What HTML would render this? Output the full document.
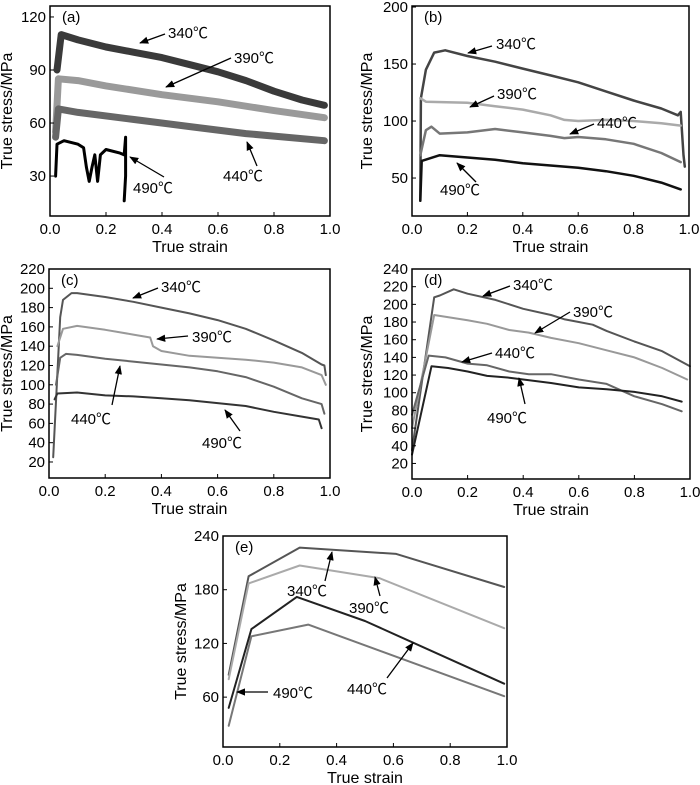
<!DOCTYPE html>
<html><head><meta charset="utf-8"><style>
html,body{margin:0;padding:0;background:#fff;}
svg{display:block;font-family:"Liberation Sans","Noto Sans CJK SC",sans-serif;}
</style></head><body>
<svg id="fig" width="700" height="785" viewBox="0 0 700 785" xmlns="http://www.w3.org/2000/svg">
<defs><marker id="ah" viewBox="0 0 10 10" refX="9" refY="5" markerWidth="7" markerHeight="7" orient="auto"><path d="M0,1 L10,5 L0,9 z" fill="#000"/></marker></defs>
</svg>
<script>
// ---- data (true strain / true stress MPa) ----
const xTicks=[0,0.2,0.4,0.6,0.8,1.0];
const xTickLabels=["0.0","0.2","0.4","0.6","0.8","1.0"];
const aYTicks=[30,60,90,120];
const bYTicks=[50,100,150,200];
const cYTicks=[20,40,60,80,100,120,140,160,180,200,220];
const dYTicks=[20,40,60,80,100,120,140,160,180,200,220,240];
const eYTicks=[60,120,180,240];

const a340X=[0.025,0.04,0.1,0.2,0.3,0.4,0.5,0.6,0.7,0.8,0.9,0.98];
const a340Y=[90,110,107,103,100,97,93,89,84,78,73,70];
const a390X=[0.02,0.03,0.1,0.2,0.4,0.6,0.8,0.98];
const a390Y=[55,85,84,81,76,72,67,63];
const a440X=[0.02,0.03,0.1,0.3,0.5,0.7,0.98];
const a440Y=[52,68,66,62,58,54,50];
const a490X=[0.02,0.025,0.05,0.1,0.12,0.13,0.14,0.15,0.16,0.17,0.18,0.2,0.25,0.265,0.27,0.27,0.265];
const a490Y=[30,48,50,48,46,35,27,35,42,27,42,45,43,42,52,30,16];

const b340X=[0.03,0.032,0.05,0.08,0.12,0.2,0.3,0.4,0.5,0.6,0.7,0.8,0.9,0.96,0.97,0.98,0.985];
const b340Y=[30,120,145,160,162,157,152,146,140,134,126,118,111,105,108,70,60];
const b390X=[0.03,0.05,0.2,0.3,0.4,0.5,0.55,0.6,0.7,0.8,0.9,0.97];
const b390Y=[120,117,116,113,110,105,101,100,101,100,98,96];
const b440X=[0.03,0.05,0.07,0.1,0.2,0.3,0.4,0.5,0.55,0.6,0.7,0.8,0.9,0.97];
const b440Y=[70,92,95,89,90,93,90,87,85,86,84,80,72,64];
const b490X=[0.03,0.035,0.1,0.2,0.3,0.4,0.5,0.6,0.7,0.8,0.9,0.97];
const b490Y=[30,65,70,68,66,63,61,59,56,52,46,40];

const c340X=[0.015,0.04,0.05,0.08,0.1,0.2,0.3,0.4,0.5,0.6,0.7,0.8,0.9,0.97,0.98,0.985];
const c340Y=[25,170,188,195,195,191,186,180,174,167,158,146,133,121,120,110];
const c390X=[0.03,0.05,0.1,0.2,0.3,0.36,0.37,0.4,0.5,0.6,0.7,0.8,0.9,0.97,0.985];
const c390Y=[140,158,161,157,152,149,140,135,130,128,126,123,118,110,100];
const c440X=[0.025,0.04,0.06,0.1,0.2,0.3,0.4,0.5,0.6,0.7,0.8,0.9,0.97,0.98];
const c440Y=[100,128,132,131,127,124,121,118,114,108,98,86,80,70];
const c490X=[0.02,0.03,0.1,0.2,0.3,0.4,0.5,0.6,0.7,0.8,0.9,0.96,0.97];
const c490Y=[85,91,92,89,88,86,84,81,78,72,67,64,55];

const d340X=[0,0.08,0.1,0.15,0.2,0.3,0.4,0.5,0.55,0.6,0.65,0.7,0.8,0.9,1.0];
const d340Y=[35,208,210,217,212,205,195,188,183,180,177,170,158,147,130];
const d390X=[0,0.08,0.2,0.27,0.35,0.42,0.5,0.6,0.7,0.8,0.9,0.99];
const d390Y=[60,188,182,178,171,168,162,156,148,140,128,115];
const d440X=[0,0.06,0.12,0.2,0.27,0.35,0.42,0.5,0.6,0.7,0.8,0.9,0.97];
const d440Y=[75,142,140,133,131,124,121,121,115,110,96,87,79];
const d490X=[0,0.07,0.13,0.2,0.27,0.35,0.4,0.5,0.6,0.7,0.8,0.9,0.97];
const d490Y=[30,130,128,124,119,117,115,111,106,104,101,96,90];

const e340X=[0.02,0.09,0.27,0.61,0.99];
const e340Y=[85,195,227,220,183];
const e390X=[0.02,0.09,0.27,0.55,0.99];
const e390Y=[80,187,207,193,137];
const e440X=[0.02,0.1,0.3,0.99];
const e440Y=[28,128,141,61];
const e490X=[0.02,0.1,0.26,0.5,0.99];
const e490Y=[48,136,172,145,75];

// ---- layout ----
const svg=document.getElementById('fig');
const NS='http://www.w3.org/2000/svg';
function mk(tag,attrs,parent){const e=document.createElementNS(NS,tag);for(const k in attrs)e.setAttribute(k,attrs[k]);(parent||svg).appendChild(e);return e;}

const panels=[
 {id:'a',L:50,R:330,T:6,B:216,ymin:7.4,ymax:126.2,yt:aYTicks,lab:'(a)',titleX:12,
  series:[[a340X,a340Y,'#3a3a3a',7,'340'],[a390X,a390Y,'#9a9a9a',7,'390'],[a440X,a440Y,'#666',7,'440'],[a490X,a490Y,'#000',3,'490']],
  notes:[['340℃',168,38,165,34,140,43],['390℃',234,63,231,58,166,87],['440℃',243,181,257,166,247,142],['490℃',153,193,164,177,130,157]]},
 {id:'b',L:412,R:689,T:6,B:216,ymin:16.7,ymax:200.9,yt:bYTicks,lab:'(b)',titleX:372,
  series:[[b340X,b340Y,'#444',2.5,'340'],[b390X,b390Y,'#aaa',2.5,'390'],[b440X,b440Y,'#777',2.5,'440'],[b490X,b490Y,'#111',2.5,'490']],
  notes:[['340℃',496,49,492,46,468,53],['390℃',497,99,494,96,470,107],['440℃',597,128,594,124,570,134],['490℃',460,195,476,182,457,163]]},
 {id:'c',L:49,R:330,T:269,B:478,ymin:3.4,ymax:220,yt:cYTicks,lab:'(c)',titleX:12,
  series:[[c340X,c340Y,'#555',2,'340'],[c390X,c390Y,'#999',2,'390'],[c440X,c440Y,'#666',2,'440'],[c490X,c490Y,'#333',2,'490']],
  notes:[['340℃',161,292,158,288,133,298],['390℃',192,342,188,336,157,339],['440℃',91,424,112,405,120,366],['490℃',222,448,240,431,225,410]]},
 {id:'d',L:412,R:690,T:269,B:479,ymin:2.4,ymax:240,yt:dYTicks,lab:'(d)',titleX:372,
  series:[[d340X,d340Y,'#555',2,'340'],[d390X,d390Y,'#999',2,'390'],[d440X,d440Y,'#666',2,'440'],[d490X,d490Y,'#222',2,'490']],
  notes:[['340℃',513,290,510,286,483,296],['390℃',573,317,570,312,535,333],['440℃',495,358,492,353,462,362],['490℃',507,423,525,404,519,378]]},
 {id:'e',L:223,R:507,T:536,B:747,ymin:4.3,ymax:240,yt:eYTicks,lab:'(e)',titleX:186,
  series:[[e340X,e340Y,'#555',2,'340'],[e390X,e390Y,'#aaa',2,'390'],[e440X,e440Y,'#777',2,'440'],[e490X,e490Y,'#222',2,'490']],
  notes:[['340℃',307,596,325,581,332,552],['390℃',369,613,380,596,375,577],['440℃',367,694,387,678,413,643],['490℃',273,698,268,692,237,692]]}
];

panels.forEach(p=>{
  const g=mk('g',{});
  
  
  const sx=v=>p.L+(v-0)*(p.R-p.L);
  const sy=v=>p.B-(v-p.ymin)/(p.ymax-p.ymin)*(p.B-p.T);
  p.series.forEach(s=>{
    const [xs,ys,col,w,name]=s;
    const d=xs.map((x,i)=>(i?'L':'M')+sx(x).toFixed(1)+','+sy(ys[i]).toFixed(1)).join(' ');
    const path=mk('path',{d:d,fill:'none',stroke:col,'stroke-width':w,'stroke-linejoin':'round','stroke-linecap':'round'},g);
    
    
  });
  const box=mk('rect',{x:p.L,y:p.T,width:p.R-p.L,height:p.B-p.T,fill:'none',stroke:'#000','stroke-width':1.5},g);
  
  
  xTicks.forEach((v,i)=>{
    mk('line',{x1:sx(v),x2:sx(v),y1:p.B,y2:p.B-4,stroke:'#000','stroke-width':1},g);
    const t=mk('text',{x:sx(v),y:p.B+18,'font-size':15,'text-anchor':'middle'},g);
    t.textContent=xTickLabels[i];
    
    
  });
  p.yt.forEach(v=>{
    mk('line',{x1:p.L,x2:p.L+4,y1:sy(v),y2:sy(v),stroke:'#000','stroke-width':1},g);
    const t=mk('text',{x:p.L-4,y:sy(v)+5,'font-size':15,'text-anchor':'end'},g);
    t.textContent=String(v);
    
    
  });
  const xt=mk('text',{x:(p.L+p.R)/2,y:p.B+36,'font-size':16,'text-anchor':'middle'},g);
  xt.textContent='True strain';
  
  
  const cy=(p.T+p.B)/2;
  const yt=mk('text',{x:p.titleX,y:cy,'font-size':16,'text-anchor':'middle',transform:'rotate(-90 '+p.titleX+' '+cy+')'},g);
  yt.textContent='True stress/MPa';
  
  
  const lb=mk('text',{x:p.L+12,y:p.T+16,'font-size':15},g);
  lb.textContent=p.lab;
  
  
  p.notes.forEach(n=>{
    const t=mk('text',{x:n[1],y:n[2],'font-size':15,'text-anchor':(n[3]<n[1]?'start':'middle')},g);
    t.textContent=n[0];
    
    
    const l=mk('line',{x1:n[3],y1:n[4],x2:n[5],y2:n[6],stroke:'#000','stroke-width':1.3,'marker-end':'url(#ah)'},g);
    
    
  });
});
</script>
</body></html>
